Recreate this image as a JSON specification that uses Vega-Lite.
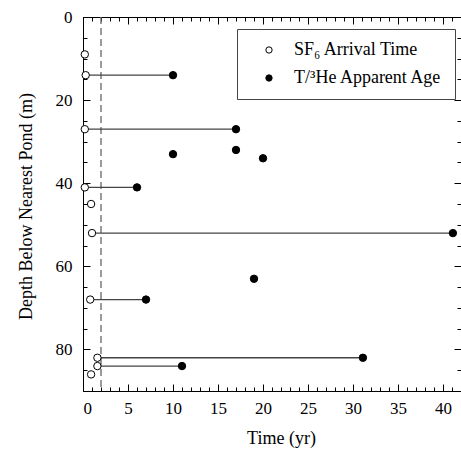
{
  "$schema": "https://vega.github.io/schema/vega-lite/v6.json",
  "width": 378,
  "height": 374,
  "autosize": {"type": "none"},
  "padding": {"left": 83, "top": 17, "right": 0, "bottom": 58},
  "config": {
    "view": {"stroke": null},
    "font": "Liberation Serif",
    "text": {"font": "Liberation Serif"},
    "axis": {
      "labelFont": "Liberation Serif", "titleFont": "Liberation Serif",
      "labelFontSize": 17, "titleFontSize": 18, "titleFontWeight": "normal",
      "labelColor": "black", "titleColor": "black",
      "domainColor": "black", "tickColor": "black", "domainWidth": 1, "tickWidth": 1,
      "grid": false
    }
  },
  "datasets": {
    "obs": [
      {"series": "SF₆ Arrival Time", "time": 0.2, "depth": 9},
      {"series": "SF₆ Arrival Time", "time": 0.3, "depth": 14},
      {"series": "SF₆ Arrival Time", "time": 0.2, "depth": 27},
      {"series": "SF₆ Arrival Time", "time": 0.2, "depth": 41},
      {"series": "SF₆ Arrival Time", "time": 0.9, "depth": 45},
      {"series": "SF₆ Arrival Time", "time": 1.0, "depth": 52},
      {"series": "SF₆ Arrival Time", "time": 0.8, "depth": 68},
      {"series": "SF₆ Arrival Time", "time": 1.6, "depth": 82},
      {"series": "SF₆ Arrival Time", "time": 1.6, "depth": 84},
      {"series": "SF₆ Arrival Time", "time": 0.9, "depth": 86},
      {"series": "T/³He Apparent Age", "time": 10, "depth": 14},
      {"series": "T/³He Apparent Age", "time": 17, "depth": 27},
      {"series": "T/³He Apparent Age", "time": 10, "depth": 33},
      {"series": "T/³He Apparent Age", "time": 17, "depth": 32},
      {"series": "T/³He Apparent Age", "time": 20, "depth": 34},
      {"series": "T/³He Apparent Age", "time": 6, "depth": 41},
      {"series": "T/³He Apparent Age", "time": 41.1, "depth": 52},
      {"series": "T/³He Apparent Age", "time": 19, "depth": 63},
      {"series": "T/³He Apparent Age", "time": 7, "depth": 68},
      {"series": "T/³He Apparent Age", "time": 31.1, "depth": 82},
      {"series": "T/³He Apparent Age", "time": 11, "depth": 84}
    ],
    "pairs": [
      {"depth": 14, "sf6": 0.3, "age": 10},
      {"depth": 27, "sf6": 0.2, "age": 17},
      {"depth": 41, "sf6": 0.2, "age": 6},
      {"depth": 52, "sf6": 1.0, "age": 41.1},
      {"depth": 68, "sf6": 0.8, "age": 7},
      {"depth": 82, "sf6": 1.6, "age": 31.1},
      {"depth": 84, "sf6": 1.6, "age": 11}
    ],
    "threshold": [{"time": 2}]
  },
  "resolve": {"axis": {"x": "independent", "y": "independent"}},
  "layer": [
    {
      "data": {"name": "threshold"},
      "mark": {"type": "rule", "color": "#666666", "strokeWidth": 1.3, "strokeDash": [7, 4]},
      "encoding": {
        "x": {"field": "time", "type": "quantitative", "scale": {"domain": [0, 42], "nice": false, "zero": false}, "axis": null}
      }
    },
    {
      "data": {"name": "pairs"},
      "mark": {"type": "rule", "color": "#444444", "strokeWidth": 1.3},
      "encoding": {
        "x": {"field": "sf6", "type": "quantitative", "scale": {"domain": [0, 42], "nice": false, "zero": false}, "axis": null},
        "x2": {"field": "age"},
        "y": {"field": "depth", "type": "quantitative", "scale": {"domain": [0, 90], "nice": false, "reverse": true, "zero": false}, "axis": null}
      }
    },
    {
      "data": {"name": "obs"},
      "mark": {"type": "point", "shape": "circle", "filled": true, "stroke": "black", "strokeWidth": 1, "size": 55, "opacity": 1},
      "encoding": {
        "x": {"field": "time", "type": "quantitative", "scale": {"domain": [0, 42], "nice": false, "zero": false},
          "axis": {"orient": "bottom", "values": [0, 5, 10, 15, 20, 25, 30, 35, 40], "tickSize": -7, "labelPadding": 16,
            "labelFont": "Liberation Serif", "titleFont": "Liberation Serif", "labelFontSize": 17, "titleFontSize": 18, "titleFontWeight": "normal",
            "title": "Time (yr)", "titleX": 198, "titleY": 52, "titleBaseline": "alphabetic", "titleAlign": "center"}},
        "y": {"field": "depth", "type": "quantitative", "scale": {"domain": [0, 90], "nice": false, "reverse": true, "zero": false},
          "axis": {"orient": "left", "values": [0, 20, 40, 60, 80], "tickSize": -7, "labelPadding": 18,
            "labelFont": "Liberation Serif", "titleFont": "Liberation Serif", "labelFontSize": 17, "titleFontSize": 18, "titleFontWeight": "normal",
            "title": "Depth Below Nearest Pond (m)", "titleX": -52, "titleY": 189, "titleBaseline": "alphabetic", "titleAlign": "center", "titleAngle": -90}},
        "fill": {"field": "series", "type": "nominal",
          "scale": {"domain": ["SF₆ Arrival Time", "T/³He Apparent Age"], "range": ["white", "black"]},
          "legend": {"orient": "none", "legendX": 154, "legendY": 12, "title": null, "strokeColor": "#444444", "fillColor": "white",
            "padding": 12, "symbolOffset": 11, "labelOffset": 16, "rowPadding": 10, "labelFontSize": 18, "labelFont": "Liberation Serif",
            "labelColor": "black", "symbolType": "circle", "symbolSize": 40, "symbolStrokeColor": "black", "symbolStrokeWidth": 1, "cornerRadius": 0}}
      }
    },
    {
      "data": {"name": "obs"},
      "mark": {"type": "point", "opacity": 0},
      "encoding": {
        "x": {"field": "time", "type": "quantitative", "scale": {"domain": [0, 42], "nice": false, "zero": false},
          "axis": {"orient": "bottom", "values": [0,1,2,3,4,5,6,7,8,9,10,11,12,13,14,15,16,17,18,19,20,21,22,23,24,25,26,27,28,29,30,31,32,33,34,35,36,37,38,39,40,41,42], "tickSize": -4, "labels": false, "domain": false, "title": null}},
        "y": {"field": "depth", "type": "quantitative", "scale": {"domain": [0, 90], "nice": false, "reverse": true, "zero": false},
          "axis": {"orient": "left", "values": [0,5,10,15,20,25,30,35,40,45,50,55,60,65,70,75,80,85,90], "tickSize": -4, "labels": false, "domain": false, "title": null}}
      }
    },
    {
      "data": {"name": "obs"},
      "mark": {"type": "point", "opacity": 0},
      "encoding": {
        "x": {"field": "time", "type": "quantitative", "scale": {"domain": [0, 42], "nice": false, "zero": false},
          "axis": {"orient": "top", "values": [0, 5, 10, 15, 20, 25, 30, 35, 40], "tickSize": -7, "labels": false, "domain": true, "title": null}},
        "y": {"field": "depth", "type": "quantitative", "scale": {"domain": [0, 90], "nice": false, "reverse": true, "zero": false},
          "axis": {"orient": "right", "values": [0, 20, 40, 60, 80], "tickSize": -7, "labels": false, "domain": true, "title": null}}
      }
    },
    {
      "data": {"name": "obs"},
      "mark": {"type": "point", "opacity": 0},
      "encoding": {
        "x": {"field": "time", "type": "quantitative", "scale": {"domain": [0, 42], "nice": false, "zero": false},
          "axis": {"orient": "top", "values": [0,1,2,3,4,5,6,7,8,9,10,11,12,13,14,15,16,17,18,19,20,21,22,23,24,25,26,27,28,29,30,31,32,33,34,35,36,37,38,39,40,41,42], "tickSize": -4, "labels": false, "domain": false, "title": null}},
        "y": {"field": "depth", "type": "quantitative", "scale": {"domain": [0, 90], "nice": false, "reverse": true, "zero": false},
          "axis": {"orient": "right", "values": [0,5,10,15,20,25,30,35,40,45,50,55,60,65,70,75,80,85,90], "tickSize": -4, "labels": false, "domain": false, "title": null}}
      }
    }
  ]
}
